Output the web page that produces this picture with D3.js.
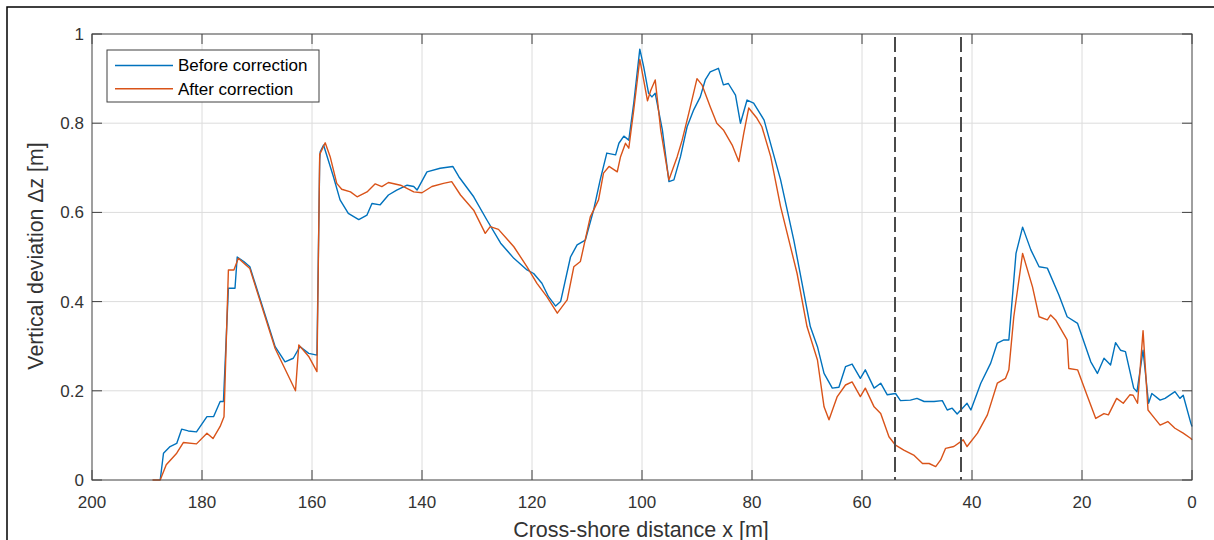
<!DOCTYPE html>
<html>
<head>
<meta charset="utf-8">
<script src="https://cdn.jsdelivr.net/npm/d3@7"></script>
<style>
  html, body { margin: 0; padding: 0; background: #fff; }
  svg { display: block; }
</style>
</head>
<body>
<div id="chart"></div>
<script>
// Data (cross-shore distance in m, vertical deviation in m)
const beforeX = [187.6, 187.0, 185.8, 184.6, 183.7, 182.5, 181.0, 179.1, 177.9, 176.7, 176.1, 175.2, 174.0, 173.6, 172.4, 171.3,
  169.4, 168.0, 166.7, 164.9, 163.4, 162.2, 160.6, 159.1, 158.6, 158.5, 157.9, 156.1, 154.9, 153.4, 151.5, 150.0,
  149.1, 147.6, 146.1, 144.6, 142.7, 141.5, 140.9, 139.1, 136.7, 134.4, 133.3, 130.6, 128.2, 125.7, 123.3, 120.9,
  119.7, 118.2, 117.0, 115.7, 114.8, 113.0, 111.8, 110.3, 108.8, 107.6, 106.4, 104.8, 104.2, 103.3, 102.4, 101.5,
  100.4, 99.7, 98.8, 98.2, 97.6, 96.3, 95.1, 94.2, 93.0, 91.8, 90.6, 89.4, 88.5, 87.6, 86.1, 85.2,
  84.3, 83.0, 82.1, 80.9, 79.7, 77.8, 74.8, 72.4, 69.4, 68.1, 66.9, 65.4, 64.2, 63.0, 61.8, 60.3,
  59.4, 57.8, 56.6, 55.4, 53.9, 53.0, 51.2, 50.0, 48.7, 46.9, 45.4, 44.5, 43.6, 42.7, 40.9, 40.2,
  38.4, 36.6, 35.4, 34.2, 33.3, 32.0, 30.8, 29.3, 27.8, 26.3, 24.2, 22.7, 20.8, 18.4, 17.2, 16.0,
  14.8, 13.9, 13.0, 12.1, 10.6, 10.0, 8.9, 7.9, 7.3, 5.8, 4.9, 3.1, 2.2, 1.6, 0.2, 0];
const beforeZ = [0, 0.06, 0.075, 0.082, 0.114, 0.110, 0.108, 0.142, 0.142, 0.176, 0.176, 0.43, 0.43, 0.50, 0.49, 0.478,
  0.404, 0.35, 0.299, 0.265, 0.273, 0.299, 0.284, 0.280, 0.717, 0.736, 0.751, 0.68, 0.628, 0.598, 0.584, 0.594,
  0.62, 0.617, 0.639, 0.65, 0.661, 0.658, 0.65, 0.691, 0.699, 0.703, 0.68, 0.635, 0.583, 0.531, 0.497, 0.471,
  0.463, 0.441, 0.411, 0.39, 0.40, 0.50, 0.527, 0.538, 0.605, 0.673, 0.733, 0.729, 0.755, 0.771, 0.762, 0.845,
  0.966, 0.927, 0.867, 0.859, 0.867, 0.785, 0.669, 0.673, 0.725, 0.792, 0.83, 0.859, 0.897, 0.915, 0.923, 0.886,
  0.889, 0.863, 0.80, 0.852, 0.845, 0.807, 0.673, 0.538, 0.344, 0.299, 0.239, 0.206, 0.208, 0.254, 0.26, 0.228,
  0.247, 0.206, 0.217, 0.191, 0.194, 0.178, 0.179, 0.183, 0.176, 0.176, 0.178, 0.157, 0.161, 0.148, 0.172, 0.157,
  0.217, 0.262, 0.307, 0.314, 0.314, 0.508, 0.567, 0.516, 0.478, 0.475, 0.415, 0.366, 0.351, 0.265, 0.239, 0.273,
  0.258, 0.308, 0.291, 0.288, 0.206, 0.198, 0.291, 0.172, 0.194, 0.179, 0.183, 0.198, 0.183, 0.19, 0.127, 0.12];

const afterX = [189.0, 187.6, 186.5, 184.6, 183.4, 181.0, 179.1, 178.0, 176.7, 176.0, 175.2, 174.2, 173.4, 171.3, 169.4, 166.7,
  163.0, 162.4, 160.6, 159.1, 158.6, 157.6, 156.7, 155.5, 154.6, 153.0, 151.8, 150.0, 148.5, 147.3, 146.1, 143.9,
  141.5, 140.0, 138.2, 136.1, 134.6, 133.0, 130.6, 128.5, 127.6, 126.1, 123.3, 120.9, 119.1, 117.3, 115.4, 113.6,
  112.4, 111.2, 109.4, 107.9, 107.0, 106.0, 104.5, 103.9, 103.0, 102.4, 101.5, 100.4, 99.7, 99.0, 98.4, 97.6,
  96.6, 95.1, 93.6, 92.7, 91.5, 90.0, 89.1, 87.6, 86.4, 85.2, 83.6, 82.4, 81.5, 80.6, 79.1, 78.2,
  76.6, 74.8, 71.8, 70.0, 68.1, 66.9, 66.0, 64.5, 63.0, 61.8, 60.3, 59.4, 57.8, 56.6, 55.1, 53.9,
  52.4, 50.6, 49.0, 47.8, 46.6, 45.7, 44.8, 43.3, 41.6, 40.9, 39.0, 37.2, 35.4, 33.9, 33.3, 32.4,
  30.8, 29.0, 27.8, 26.3, 25.7, 24.8, 22.7, 22.4, 20.8, 19.0, 17.5, 16.0, 15.2, 13.7, 12.5, 11.3,
  10.7, 9.9, 8.9, 8.0, 7.3, 5.8, 4.4, 3.1, 1.6, 0.2, 0];
const afterZ = [0, 0, 0.034, 0.06, 0.084, 0.081, 0.105, 0.093, 0.12, 0.142, 0.471, 0.471, 0.497, 0.474, 0.40, 0.295,
  0.20, 0.303, 0.277, 0.243, 0.73, 0.756, 0.725, 0.665, 0.652, 0.646, 0.635, 0.646, 0.664, 0.658, 0.667, 0.661,
  0.646, 0.644, 0.658, 0.665, 0.669, 0.639, 0.605, 0.553, 0.568, 0.562, 0.523, 0.478, 0.441, 0.411, 0.374, 0.404,
  0.478, 0.49, 0.59, 0.628, 0.688, 0.703, 0.691, 0.725, 0.755, 0.744, 0.83, 0.943, 0.897, 0.85, 0.874, 0.897,
  0.785, 0.673, 0.725, 0.762, 0.822, 0.90, 0.886, 0.837, 0.80, 0.785, 0.751, 0.714, 0.777, 0.834, 0.811, 0.792,
  0.725, 0.613, 0.463, 0.344, 0.269, 0.164, 0.135, 0.187, 0.213, 0.22, 0.187, 0.206, 0.164, 0.149, 0.097, 0.078,
  0.067, 0.056, 0.037, 0.037, 0.03, 0.045, 0.071, 0.075, 0.09, 0.075, 0.105, 0.146, 0.217, 0.228, 0.247, 0.366,
  0.508, 0.433, 0.366, 0.359, 0.37, 0.359, 0.314, 0.25, 0.247, 0.187, 0.138, 0.149, 0.146, 0.183, 0.172, 0.191,
  0.19, 0.172, 0.335, 0.157, 0.146, 0.123, 0.131, 0.116, 0.105, 0.093, 0.09];

const xTicks = [200, 180, 160, 140, 120, 100, 80, 60, 40, 20, 0];
const yTicks = [0, 0.2, 0.4, 0.6, 0.8, 1];
const markerX = [54, 42];
const seriesNames = ["Before correction", "After correction"];
const seriesColours = ["#0072bd", "#d95319"];

const width = 1214, height = 540;
const margin = { left: 92, right: 22, top: 34, bottom: 60 };
const axisColour = "#404040";
const font = "'Liberation Sans', Arial, Helvetica, sans-serif";

const svg = d3.select("#chart").append("svg")
  .attr("width", width)
  .attr("height", height)
  .attr("viewBox", [0, 0, width, height]);

// outer figure frame (right/bottom edges fall outside the picture)
svg.append("rect")
  .attr("x", 7).attr("y", 7)
  .attr("width", width).attr("height", height)
  .attr("fill", "none")
  .attr("stroke", "#000")
  .attr("stroke-width", 1.5);

const x = d3.scaleLinear().domain([200, 0]).range([margin.left, width - margin.right]);
const y = d3.scaleLinear().domain([0, 1]).range([height - margin.bottom, margin.top]);

const x0 = x.range()[0], x1 = x.range()[1];
const y0 = y.range()[0], y1 = y.range()[1];

// grid
const grid = svg.append("g").attr("stroke", "#dcdcdc").attr("stroke-width", 1);
grid.selectAll(".vg").data(xTicks.slice(1, -1)).join("line")
  .attr("x1", d => x(d)).attr("x2", d => x(d))
  .attr("y1", y1).attr("y2", y0);
grid.selectAll(".hg").data(yTicks.slice(1, -1)).join("line")
  .attr("x1", x0).attr("x2", x1)
  .attr("y1", d => y(d)).attr("y2", d => y(d));

// data lines
const series = [
  beforeX.map((d, i) => [d, beforeZ[i]]),
  afterX.map((d, i) => [d, afterZ[i]])
];
const line = d3.line().x(d => x(d[0])).y(d => y(d[1]));
svg.append("g").selectAll("path").data(series).join("path")
  .attr("d", line)
  .attr("fill", "none")
  .attr("stroke", (d, i) => seriesColours[i])
  .attr("stroke-width", 1.4)
  .attr("stroke-linejoin", "round");

// dashed markers
svg.append("g").selectAll("line").data(markerX).join("line")
  .attr("x1", d => x(d)).attr("x2", d => x(d))
  .attr("y1", y1 + 3).attr("y2", y0)
  .attr("stroke", "#4a4a4a")
  .attr("stroke-width", 2)
  .attr("stroke-dasharray", "15,5");

// axes: box with inward ticks on all four sides
const tickLen = 10;
const axes = svg.append("g").attr("stroke", axisColour).attr("stroke-width", 1);
axes.append("rect")
  .attr("x", x0).attr("y", y1)
  .attr("width", x1 - x0).attr("height", y0 - y1)
  .attr("fill", "none");
axes.selectAll(".xb").data(xTicks).join("line")
  .attr("x1", d => x(d)).attr("x2", d => x(d))
  .attr("y1", y0).attr("y2", y0 - tickLen);
axes.selectAll(".xt").data(xTicks).join("line")
  .attr("x1", d => x(d)).attr("x2", d => x(d))
  .attr("y1", y1).attr("y2", y1 + tickLen);
axes.selectAll(".yl").data(yTicks).join("line")
  .attr("x1", x0).attr("x2", x0 + tickLen)
  .attr("y1", d => y(d)).attr("y2", d => y(d));
axes.selectAll(".yr").data(yTicks).join("line")
  .attr("x1", x1).attr("x2", x1 - tickLen)
  .attr("y1", d => y(d)).attr("y2", d => y(d));

// tick labels
svg.append("g").selectAll("text").data(xTicks).join("text")
  .attr("x", d => x(d))
  .attr("y", y0 + 28)
  .attr("text-anchor", "middle")
  .attr("font-family", font)
  .attr("font-size", 17)
  .attr("fill", "#333")
  .text(d => d);
svg.append("g").selectAll("text").data(yTicks).join("text")
  .attr("x", x0 - 8)
  .attr("y", d => y(d))
  .attr("dy", "0.35em")
  .attr("text-anchor", "end")
  .attr("font-family", font)
  .attr("font-size", 17)
  .attr("fill", "#333")
  .text(d => d);

// axis labels
svg.append("text")
  .attr("x", 641)
  .attr("y", 537)
  .attr("text-anchor", "middle")
  .attr("font-family", font)
  .attr("font-size", 21.5)
  .attr("fill", "#333")
  .text("Cross-shore distance x [m]");
svg.append("text")
  .attr("transform", `translate(43,256) rotate(-90)`)
  .attr("text-anchor", "middle")
  .attr("font-family", font)
  .attr("font-size", 21.3)
  .attr("fill", "#333")
  .text("Vertical deviation \u0394z [m]");

// legend
const legend = svg.append("g").attr("transform", "translate(107,50)");
legend.append("rect")
  .attr("width", 212).attr("height", 52)
  .attr("fill", "#fff")
  .attr("stroke", axisColour)
  .attr("stroke-width", 1);
const rows = legend.selectAll("g.row").data(seriesNames).join("g")
  .attr("transform", (d, i) => `translate(0,${15.5 + i * 23.2})`);
rows.append("line")
  .attr("x1", 8).attr("x2", 66)
  .attr("stroke", (d, i) => seriesColours[i])
  .attr("stroke-width", 1.5);
rows.append("text")
  .attr("x", 71)
  .attr("dy", "0.35em")
  .attr("font-family", font)
  .attr("font-size", 17)
  .attr("fill", "#000")
  .text(d => d);
</script>
</body>
</html>
